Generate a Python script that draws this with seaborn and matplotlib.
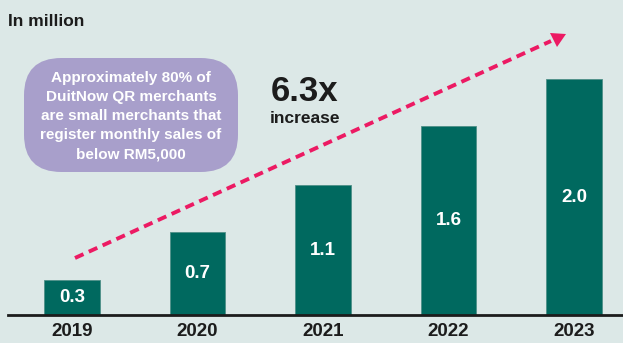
import matplotlib
matplotlib.use("Agg")
import matplotlib.pyplot as plt
from matplotlib.patches import FancyBboxPatch, Polygon
from matplotlib.lines import Line2D
import seaborn as sns
import pandas as pd

years = ["2019", "2020", "2021", "2022", "2023"]
merchants = [0.3, 0.7, 1.1, 1.6, 2.0]
value_labels = ["0.3", "0.7", "1.1", "1.6", "2.0"]

BG = "#dce8e7"
BAR = "#00695f"
PINK = "#ec1a63"
PURPLE = "#a89fcb"
INK = "#1c1c1c"

sns.set_theme(style="white")
plt.rcParams["font.family"] = ["Liberation Sans", "DejaVu Sans"]

W, H = 623, 343
fig = plt.figure(figsize=(W / 100, H / 100), dpi=100, facecolor=BG)
ax = fig.add_axes([8 / W, 28 / H, 615 / W, 315 / H])
ax.set_facecolor(BG)

df = pd.DataFrame({"year": years, "value": merchants})
sns.barplot(data=df, x="year", y="value", color=BAR, width=0.44, saturation=1,
            edgecolor="#4f8f88", linewidth=0.6, ax=ax)

ax.set_xlim(-0.51, 4.39)
ax.set_ylim(0, 315 / 118)
for s in ["top", "right", "left"]:
    ax.spines[s].set_visible(False)
ax.spines["bottom"].set_color(INK)
ax.spines["bottom"].set_linewidth(2)
ax.set_yticks([])
ax.set_xlabel("")
ax.set_ylabel("")
ax.tick_params(axis="x", length=0, pad=6)
for lbl in ax.get_xticklabels():
    lbl.set_fontsize(13.5)
    lbl.set_fontweight("bold")
    lbl.set_color(INK)

# value labels centred in bars
for i, (v, t) in enumerate(zip(merchants, value_labels)):
    ax.text(i, v / 2, t, ha="center", va="center", color="white",
            fontsize=13.5, fontweight="bold")

# figure-pixel helper
def px(x, y):
    return (x / W, 1 - y / H)

fig.text(*px(8, 22), "In million", ha="left", va="center", fontsize=12.5,
         fontweight="bold", color=INK)

# purple rounded callout
x0, y0 = px(24, 172)
x1, y1 = px(238, 58)
box = FancyBboxPatch((x0, y0), x1 - x0, y1 - y0,
                     boxstyle="round,pad=0,rounding_size=0.06",
                     transform=fig.transFigure, facecolor=PURPLE,
                     edgecolor="none", mutation_aspect=W / H)
fig.add_artist(box)
callout = ["Approximately 80% of", "DuitNow QR merchants",
           "are small merchants that", "register monthly sales of",
           "below RM5,000"]
for k, line in enumerate(callout):
    fig.text(*px(131, 78 + 19 * k), line, ha="center", va="center",
             fontsize=11, fontweight="bold", color="white")

fig.text(*px(305, 92), "6.3x", ha="center", va="center", fontsize=25,
         fontweight="bold", color=INK)
fig.text(*px(305, 119), "increase", ha="center", va="center", fontsize=12.5,
         fontweight="bold", color=INK)

# dashed growth arrow
(ax_, ay_), (bx_, by_) = px(75, 258), px(551, 41)
fig.add_artist(Line2D([ax_, bx_], [ay_, by_], transform=fig.transFigure,
                      color=PINK, lw=2.8, linestyle=(0, (2.4, 1.5))))
tri = Polygon([px(550, 33), px(566, 34), px(557, 47)], closed=True,
              transform=fig.transFigure, facecolor=PINK, edgecolor="none")
fig.add_artist(tri)

fig.savefig("out.png", dpi=100, facecolor=BG)
